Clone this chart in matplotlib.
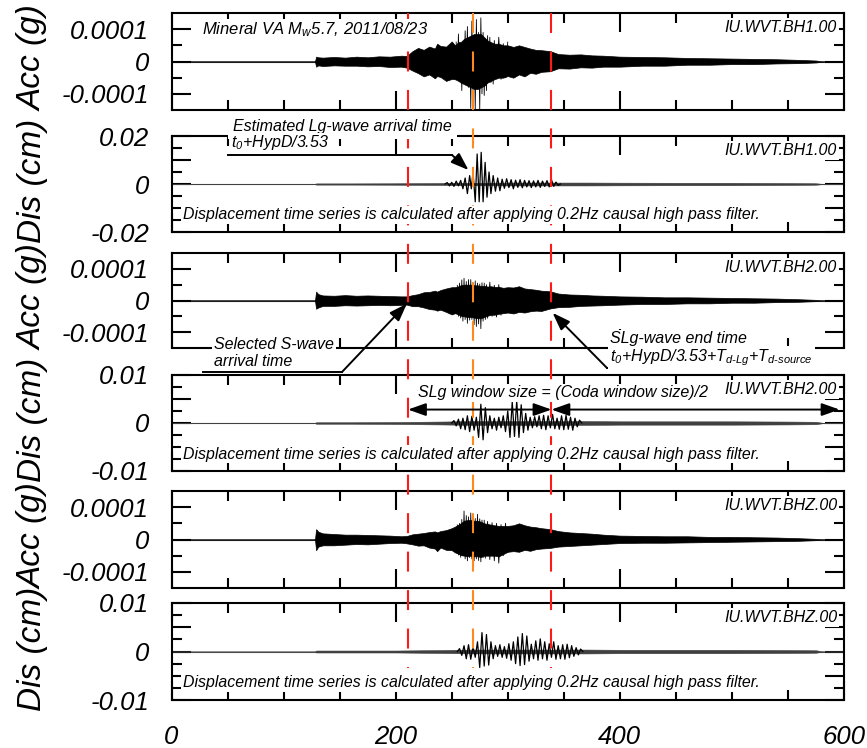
import numpy as np
import matplotlib
matplotlib.use('Agg')
import matplotlib.pyplot as plt
from matplotlib.lines import Line2D
from matplotlib.text import Annotation
from matplotlib.transforms import blended_transform_factory

plt.rcParams['font.family'] = ['Liberation Sans', 'DejaVu Sans']
plt.rcParams['font.style'] = 'italic'
plt.rcParams['mathtext.fontset'] = 'custom'
plt.rcParams['mathtext.rm'] = 'Liberation Sans:italic'
plt.rcParams['mathtext.it'] = 'Liberation Sans:italic'
plt.rcParams['mathtext.bf'] = 'Liberation Sans:bold:italic'
plt.rcParams['lines.scale_dashes'] = False

# ---------------- data ----------------
stations = ['IU.WVT.BH1.00', 'IU.WVT.BH1.00', 'IU.WVT.BH2.00',
            'IU.WVT.BH2.00', 'IU.WVT.BHZ.00', 'IU.WVT.BHZ.00']
kinds = ['acc', 'dis', 'acc', 'dis', 'acc', 'dis']
x_ticks = [0, 200, 400, 600]
x_tick_labels = ['0', '200', '400', '600']

# phase times (s)
s_arrival = 211
lg_arrival = 269
slg_end = 339
coda_end = 596

# acceleration envelopes of the dense part (units of 1e-5 g)
acc_time = [0, 128, 129, 131, 135, 145, 155, 165, 175, 185, 195, 205, 210, 215, 220,
            225, 230, 235, 237, 240, 245, 250, 253, 256, 258, 261, 264, 267, 270, 273,
            276, 279, 282, 285, 288, 292, 296, 300, 305, 310, 315, 320, 325, 330, 338,
            345, 355, 365, 375, 385, 400, 420, 440, 460, 480, 500, 520, 540, 560, 575,
            582, 600]
acc_bh1_up = [0, 0, 1.5, 1.3, 1.2, 1.4, 1.2, 1.5, 1.3, 1.6, 1.5, 1.8, 1.7, 3.2, 4.2,
              3.6, 4.6, 4.0, 5.5, 4.8, 4.6, 6.2, 5.0, 6.0, 6.0, 7.0, 7.5, 8.0, 8.5, 8.5,
              8.5, 7.5, 6.5, 6.0, 5.5, 5.5, 5.0, 5.0, 4.5, 5.0, 4.5, 4.0, 3.6, 3.5, 3.2,
              2.3, 2.1, 2.2, 1.9, 1.8, 1.5, 1.4, 1.3, 1.1, 1.0, 0.9, 0.8, 0.7, 0.5, 0.3,
              0, 0]
acc_bh1_lo = [0, 0, -1.6, -1.2, -1.4, -1.2, -1.3, -1.3, -1.5, -1.4, -1.7, -1.6, -1.9, -2.8, -3.6,
              -4.6, -4.0, -5.2, -4.5, -4.8, -6.0, -5.4, -5.5, -6.0, -6.5, -7.0, -7.5, -8.0, -8.5, -8.5,
              -8.0, -7.5, -6.5, -6.0, -5.5, -5.0, -5.0, -4.5, -5.0, -4.0, -4.6, -3.5, -3.8, -3.2, -3.0,
              -2.1, -2.2, -1.8, -1.9, -1.6, -1.6, -1.3, -1.3, -1.0, -1.0, -0.8, -0.8, -0.6, -0.5, -0.3,
              0, 0]
acc_bh2_up = [0, 0, 2.8, 2.0, 1.6, 1.5, 1.7, 1.5, 1.6, 1.5, 1.4, 1.3, 1.3, 1.7, 2.0,
              2.6, 2.7, 3.1, 2.8, 3.3, 3.8, 4.2, 4.2, 4.5, 4.8, 5.0, 5.0, 5.0, 4.8, 4.8,
              4.6, 4.6, 4.4, 4.5, 4.3, 4.3, 4.0, 4.2, 4.1, 4.5, 3.8, 3.6, 3.4, 3.1, 2.9,
              2.2, 1.9, 1.8, 1.6, 1.5, 1.3, 1.2, 1.0, 1.0, 0.9, 0.8, 0.7, 0.6, 0.4, 0.2,
              0, 0]
acc_bh2_lo = [0, 0, -2.6, -2.2, -1.7, -1.7, -1.5, -1.6, -1.5, -1.4, -1.5, -1.4, -1.3, -1.8, -1.8,
              -2.2, -2.7, -2.9, -3.2, -2.9, -3.6, -4.4, -4.0, -4.4, -4.8, -5.0, -5.2, -5.2, -5.4, -5.6,
              -5.6, -5.2, -4.8, -4.5, -4.5, -4.2, -4.0, -3.8, -4.1, -3.6, -3.8, -3.4, -3.2, -3.3, -2.5,
              -2.1, -2.0, -1.7, -1.6, -1.5, -1.3, -1.1, -1.1, -0.9, -0.9, -0.7, -0.7, -0.5, -0.4, -0.2,
              0, 0]
acc_bhz_up = [0, 0, 3.2, 2.4, 1.9, 1.7, 1.5, 1.5, 1.4, 1.3, 1.2, 1.0, 1.1, 1.6, 1.8,
              2.0, 2.3, 2.5, 2.2, 2.6, 2.9, 3.5, 4.0, 4.6, 5.0, 5.8, 6.0, 6.0, 5.8, 5.8,
              5.5, 5.0, 4.8, 4.6, 4.4, 4.2, 4.2, 4.2, 4.4, 5.0, 4.4, 4.0, 3.8, 3.5, 3.2,
              2.6, 2.2, 2.0, 1.8, 1.5, 1.2, 1.1, 1.0, 1.0, 0.8, 0.8, 0.7, 0.6, 0.4, 0.2,
              0, 0]
acc_bhz_lo = [0, 0, -3.3, -2.2, -1.8, -1.8, -1.6, -1.4, -1.5, -1.3, -1.1, -1.0, -1.2, -1.5, -1.9,
              -1.8, -2.5, -2.8, -3.6, -2.5, -3.2, -3.3, -4.0, -4.4, -4.8, -5.0, -5.2, -5.0, -5.2, -5.2,
              -5.4, -5.0, -5.0, -5.0, -5.0, -5.2, -4.5, -3.8, -3.6, -3.8, -3.2, -3.5, -3.0, -2.8, -2.6,
              -2.2, -2.0, -1.8, -1.6, -1.4, -1.1, -1.0, -1.0, -0.9, -0.8, -0.7, -0.6, -0.5, -0.4, -0.2,
              0, 0]

# acceleration spikes in the strong phase (time s, value 1e-5 g)
spk_bh1_t = [254, 255, 256, 257, 258, 259, 260, 261, 262, 263, 264, 265, 266, 267, 268,
             269, 270, 271, 272, 273, 274, 275, 276, 277, 278, 279, 280, 281, 282, 283,
             284, 285, 286, 287, 288, 290, 292, 294, 296, 298, 300]
spk_bh1_v = [6, -5, 8.5, -6, 5, -9, 6, -6, 9.5, -5, 10.8, -8, 7, -14.5, 12.5,
             -9, 8, -15, 13, -8, 9, -15, 13.5, -10, 9, -10.5, 7, -9, 8, -6,
             7.5, -6.5, 5, -7, 6.5, -5, 7.5, -5.5, 5.5, -5, 6]
spk_bh2_t = [255, 256, 257, 258, 259, 260, 261, 262, 263, 264, 265, 266, 267, 268, 269,
             270, 271, 272, 273, 274, 275, 276, 277, 278, 279, 280, 281, 282, 284, 286,
             288, 290, 292, 294]
spk_bh2_v = [4.8, -5, 5.5, -5.5, 6.5, -6.5, 7.0, -6, 6, -7.2, 6.6, -6.2, 6.6, -6, 5.6,
             -7.6, 6.2, -8.2, 5.5, -7.4, 5.2, -8.9, 5.6, -6.5, 5.5, -6, 5, -5.6, 5.8, -5,
             4.8, -5.2, 5, -4.6]
spk_bhz_t = [255, 256, 257, 258, 259, 260, 261, 262, 263, 264, 265, 266, 267, 268, 269,
             270, 271, 272, 273, 274, 275, 276, 277, 278, 279, 280, 282, 284, 286, 288,
             290, 292, 294, 296, 298, 300]
spk_bhz_v = [4.5, -4.8, 5.0, -5.5, 6.2, -5, 8.8, -6, 7.4, -6.6, 7, -5.6, 8.2, -6, 7,
             -6.6, 6.5, -6, 7.8, -6.5, 6.4, -6.9, 6, -5.6, 6, -5.8, 5.6, -6.2, 5.2, -6.6,
             5, -7.3, 4.6, -5, 5, -4]

# displacement background envelopes (units of 1e-3 cm)
dis_time = [0, 128, 129, 160, 200, 240, 255, 270, 300, 340, 370, 400, 450, 500, 550, 575, 582, 600]
dis_bh1_amp = [0, 0, 0.25, 0.25, 0.3, 0.4, 0.5, 0.5, 0.6, 0.6, 0.6, 0.55, 0.5, 0.5, 0.4, 0.3, 0, 0]
dis_bh2_amp = [0, 0, 0.15, 0.15, 0.2, 0.3, 0.35, 0.4, 0.4, 0.4, 0.4, 0.35, 0.35, 0.35, 0.3, 0.25, 0, 0]
dis_bhz_amp = [0, 0, 0.2, 0.2, 0.2, 0.3, 0.35, 0.4, 0.4, 0.4, 0.4, 0.35, 0.35, 0.35, 0.3, 0.25, 0, 0]

# displacement strong-motion peaks (time s, value 1e-3 cm)
dis_bh1_t = [244, 246, 248, 250, 252, 254, 256, 258, 260, 262, 264, 266, 267.5, 269, 271,
             272.7, 274.5, 276.3, 278, 279.8, 281.5, 283.3, 285, 287, 289, 291, 293, 295, 297,
             299, 301, 303, 305, 307, 309, 311, 313, 315, 317, 319, 321, 323, 325, 327, 329,
             331, 333, 335, 337, 339, 341, 343, 345, 347]
dis_bh1_v = [0, 0.6, -0.8, 0.7, -1.0, 1.2, -0.8, 1.5, -2.0, 2.5, -4.0, 3.5, -2.0, 5.0, -7.4,
             12.5, -7.4, 13.2, -7.4, 9.0, -5.5, 5.0, -4.0, 3.5, -3.0, 2.5, -2.8, 2.0, -1.8,
             2.2, -1.5, 1.8, -2.0, 1.6, -1.4, 1.8, -1.6, 1.5, -1.2, 1.4, -1.5, 1.3, -1.2, 1.5,
             -1.4, 1.2, -1.0, 1.4, -1.2, 1.8, -1.0, 0.8, -0.6, 0]
dis_bh2_t = list(range(250, 367, 2))
dis_bh2_v = [0, 0.5, -0.6, 0.8, -1.2, 1.0, -1.4, 1.5, -1.8, 1.4, -1.5, 1.2, -3.0, 3.9, -3.5,
             3.2, -2.0, 1.5, -1.2, 1.0, -1.5, 1.2, -1.0, 1.5, -1.8, 2.5, -3.0, 4.4, -2.8, 4.6,
             -3.0, 3.8, -2.0, 2.0, -1.5, 1.2, -1.0, 1.3, -0.8, 1.5, -1.2, 1.6, -1.4, 1.5, -1.0,
             1.8, -1.2, 1.0, -1.3, 1.5, -1.4, 1.6, -1.3, 1.2, -1.5, 1.0, -0.8, 0.6, 0]
dis_bhz_t = list(range(255, 368, 2))
dis_bhz_v = [0, 0.6, -0.8, 1.2, -1.5, 1.4, -1.6, 1.0, -1.2, 2.0, -3.3, 3.9, -3.0, 3.5, -2.8,
             2.0, -1.5, 1.2, -1.0, 1.4, -1.2, 1.0, -1.4, 1.6, -1.8, 2.0, -2.5, 3.0, -2.9, 3.7,
             -2.7, 3.2, -2.0, 1.5, -1.5, 2.2, -1.8, 2.6, -1.5, 2.0, -1.8, 1.6, -1.2, 2.0, -1.6,
             1.2, -1.5, 1.4, -1.6, 1.5, -1.3, 1.2, -1.0, 0.8, -0.7, 0.5, 0]

acc_env = [(acc_bh1_up, acc_bh1_lo), None, (acc_bh2_up, acc_bh2_lo), None, (acc_bhz_up, acc_bhz_lo), None]
acc_spk = [(spk_bh1_t, spk_bh1_v), None, (spk_bh2_t, spk_bh2_v), None, (spk_bhz_t, spk_bhz_v), None]
dis_env = [None, dis_bh1_amp, None, dis_bh2_amp, None, dis_bhz_amp]
dis_peaks = [None, (dis_bh1_t, dis_bh1_v), None, (dis_bh2_t, dis_bh2_v), None, (dis_bhz_t, dis_bhz_v)]
dis_limits = [None, 0.02, None, 0.01, None, 0.01]

# ---------------- layout ----------------
W, H = 867, 748
fig = plt.figure(figsize=(W / 100, H / 100), dpi=100)
fig.patch.set_facecolor('white')
panel_px = [(13, 110), (136, 232), (253, 348), (375, 471), (491, 588), (603, 700)]
L, R = 171.5, 844

axes = []
for i, (top, bot) in enumerate(panel_px):
    ax = fig.add_axes([L / W, 1 - bot / H, (R - L) / W, (bot - top) / H])
    axes.append(ax)
    ax.set_xlim(0, 600)
    ax.set_xticks(x_ticks)
    ax.set_xticks(np.arange(50, 600, 50), minor=True)
    if i == len(panel_px) - 1:
        ax.set_xticklabels(x_tick_labels)
    else:
        ax.set_xticklabels([])
    ax.plot([0, 600], [0, 0], color='0.35', lw=0.8, zorder=1)
    if kinds[i] == 'acc':
        ax.set_ylim(-1.5e-4, 1.5e-4)
        ax.set_yticks([-1e-4, 0, 1e-4], ['-0.0001', '0', '0.0001'])
        ax.set_yticks([-5e-5, 5e-5], minor=True)
        up, lo = acc_env[i]
        t = np.array(acc_time)
        ax.fill_between(t, np.array(lo) * 1e-5, np.array(up) * 1e-5,
                        facecolor='black', edgecolor='black', lw=0.5, zorder=2)
        st, sv = acc_spk[i]
        ax.plot(st, np.array(sv) * 1e-5, color='black', lw=0.6, zorder=2)
    else:
        lim = dis_limits[i]
        ax.set_ylim(-lim, lim)
        lab = '%g' % lim
        ax.set_yticks([-lim, -lim / 2, 0, lim / 2, lim], ['-' + lab, '', '0', '', lab])
        ax.set_yticks([-0.75 * lim, -0.25 * lim, 0.25 * lim, 0.75 * lim], minor=True)
        amp = np.array(dis_env[i]) * 1e-3
        t = np.array(dis_time)
        ax.fill_between(t, -amp, amp, facecolor='0.25', edgecolor='0.25', lw=0.4, zorder=2)
        pt, pv = dis_peaks[i]
        ax.plot(pt, np.array(pv) * 1e-3, color='black', lw=0.9, zorder=3)
    for sp in ax.spines.values():
        sp.set_linewidth(1.5)
    ax.tick_params(which='major', direction='in', length=14, width=1.5,
                   top=True, right=True, labelsize=18.5, pad=16)
    ax.tick_params(which='minor', direction='in', length=7, width=1.5,
                   top=True, right=True)
    ax.tick_params(axis='x', which='major', pad=18)

# y labels
for i, (top, bot) in enumerate(panel_px):
    fig.text(33 / W, 1 - ((top + bot) / 2 - 3) / H, 'Acc (g)' if kinds[i] == 'acc' else 'Dis (cm)',
             rotation=90, ha='center', va='center', fontsize=24)

# vertical phase lines across all panels
trans_v = blended_transform_factory(axes[-1].transData, fig.transFigure)
for tv, col in zip([s_arrival, lg_arrival, slg_end], ['#ff1a1a', '#ff8a1c', '#ff1a1a']):
    fig.add_artist(Line2D([tv, tv], [1 - 13 / H, 1 - 668 / H], transform=trans_v, color=col,
                          lw=1.5, linestyle=(0, (14.4, 13.3)), zorder=2.5))

box = dict(facecolor='white', edgecolor='none', boxstyle='square,pad=0.12')
FS = 11.5


def ftext(x, y, s, **kw):
    kw.setdefault('fontsize', FS)
    kw.setdefault('va', 'center')
    kw.setdefault('ha', 'left')
    return fig.text(x / W, 1 - y / H, s, zorder=4, **kw)


def fline(x1, x2, y):
    fig.add_artist(Line2D([x1 / W, x2 / W], [1 - y / H, 1 - y / H], transform=fig.transFigure,
                          color='black', lw=1.4, zorder=4))


def farrow(xy, xyc, xytext, style='-|>'):
    a = Annotation('', xy=xy, xycoords=xyc, xytext=(xytext[0], H - xytext[1]),
                   textcoords='figure pixels',
                   arrowprops=dict(arrowstyle=style + ',head_length=0.9,head_width=0.32',
                                   color='black', lw=1.4, shrinkA=0, shrinkB=0,
                                   mutation_scale=12))
    a.set_zorder(4)
    fig.add_artist(a)


# station labels and filter notes
for i, (top, bot) in enumerate(panel_px):
    ftext(837, top + 14.5, stations[i], ha='right', bbox=box)
    if kinds[i] == 'dis':
        ftext(183, bot - 17, 'Displacement time series is calculated after applying '
              '0.2Hz causal high pass filter.', fontsize=11.4, bbox=box)

ftext(202, 30, r'Mineral VA M$_w$5.7, 2011/08/23', fontsize=12, bbox=box)

# Lg arrival annotation (panel 2)
ftext(233, 127, 'Estimated Lg-wave arrival time',
      bbox=dict(facecolor='white', edgecolor='none', boxstyle='square,pad=0.3'))
ftext(231, 143, r't$_0$+HypD/3.53',
      bbox=dict(facecolor='white', edgecolor='none', boxstyle='square,pad=0.02'))
fline(228, 452, 155)
farrow((265, 0.0058), axes[1].transData, (452, 155))

# S-wave annotation (panel 3)
ftext(214, 345, 'Selected S-wave', bbox=box)
ftext(214, 362, 'arrival time')
fline(203, 342, 372)
farrow((s_arrival - 1, -1.0e-5), axes[2].transData, (342, 372))

# SLg end annotation (panel 3)
ftext(610, 339, 'SLg-wave end time', bbox=box)
ftext(610, 358, r't$_0$+HypD/3.53+T$_{d\text{-}Lg}$+T$_{d\text{-}source}$', bbox=box)
fline(607, 788, 368)
farrow((slg_end + 1, -3.9e-5), axes[2].transData, (607, 368))

# SLg window arrows (panel 4)
ftext(418, 393, 'SLg window size = (Coda window size)/2', bbox=box)
for a0, a1 in [(s_arrival, slg_end), (slg_end, coda_end)]:
    an = Annotation('', xy=(a0, 0.0028), xycoords=axes[3].transData,
                    xytext=(a1, 0.0028), textcoords=axes[3].transData,
                    arrowprops=dict(arrowstyle='<|-|>,head_length=0.9,head_width=0.32',
                                    color='black', lw=1.4, shrinkA=0, shrinkB=0,
                                    mutation_scale=12))
    an.set_zorder(4)
    fig.add_artist(an)

fig.savefig('out.png', dpi=100)
